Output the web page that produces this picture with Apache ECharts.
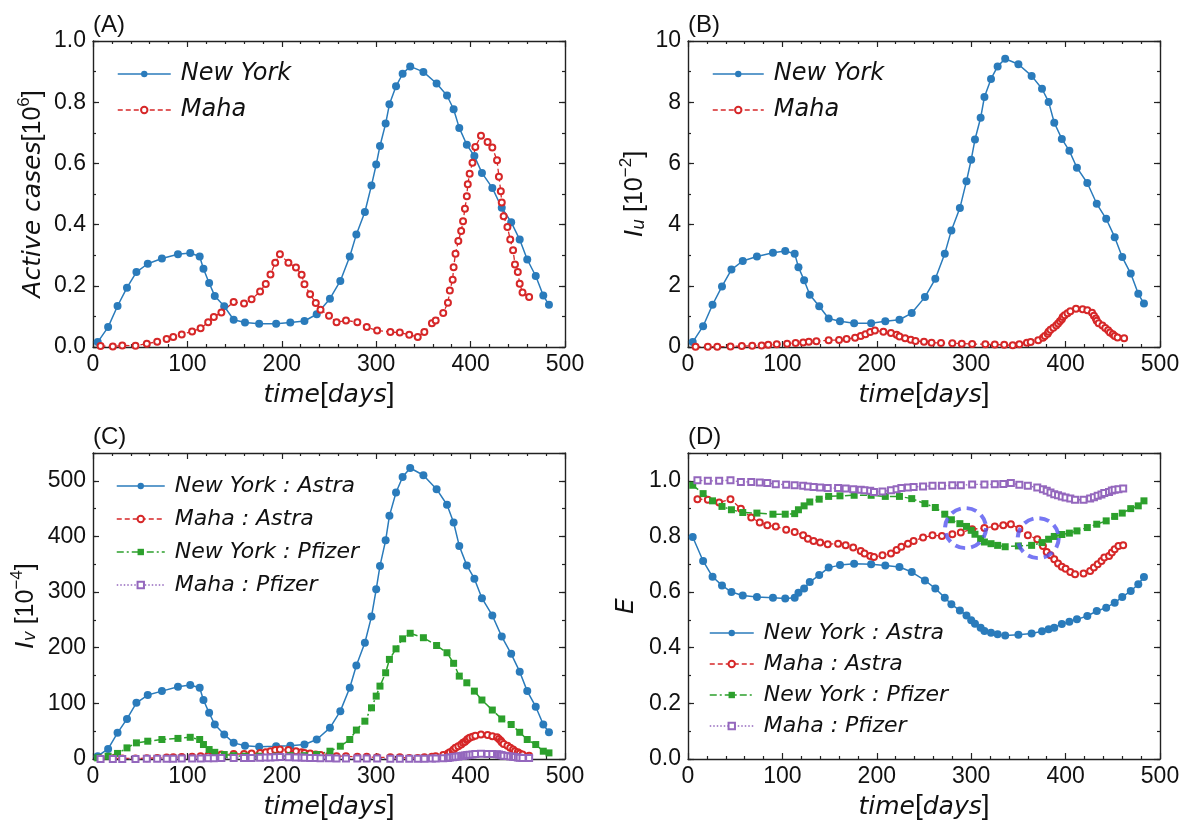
<!DOCTYPE html>
<html>

<head>
    <meta charset="utf-8" />
    <script src="https://cdn.jsdelivr.net/npm/echarts@6/dist/echarts.min.js"></script>
    <style>
        body { margin: 0; background: #fff; }
        #main { width: 1184px; height: 821px; }
    </style>
</head>

<body>
    <div id="main"></div>
    <script>
        // days sampled for New York (same in every panel)
        var nyDays = [5, 16, 26, 36, 46, 58, 73, 90, 103, 113, 117, 123, 129, 139, 149, 161, 176, 194, 209, 224,
            237, 251, 262, 272, 279, 288, 295, 300, 304, 310, 314, 321, 328, 336, 350, 364, 375, 382, 388, 396,
            404, 412, 423, 433, 443, 452, 460, 469, 477, 483];
        // days sampled for Maha (panels A, B, C)
        var mahaDays = [8, 21, 31, 45, 57, 68, 78, 85, 94, 105, 114, 122, 128, 136, 149, 160, 168, 177, 183, 188,
            193, 198, 207, 215, 221, 224, 230, 236, 241, 250, 258, 268, 280, 290, 301, 315, 325, 335, 344, 351,
            359, 363, 371, 376, 378, 381, 382, 384, 387, 390, 392, 394, 396, 397, 399, 402, 405, 411, 418, 423,
            428, 430, 432, 433, 435, 439, 442, 445, 447, 450, 452, 455, 462];
        // days sampled for Maha in panel D
        var mahaDaysE = [10, 21, 33, 45, 56, 67, 76, 84, 93, 104, 113, 122, 127, 133, 140, 148, 159, 167, 175, 183,
            187, 193, 197, 206, 215, 221, 226, 233, 239, 249, 259, 269, 280, 289, 301, 314, 325, 334, 342, 351,
            360, 370, 376, 380, 384, 388, 392, 396, 400, 405, 410, 419, 426, 430, 434, 438, 441, 446, 449, 452,
            456, 461];

        // (A) active cases [10^6]
        var nyActive = [0.016, 0.065, 0.134, 0.194, 0.245, 0.272, 0.289, 0.303, 0.307, 0.296, 0.256, 0.209, 0.167, 0.133,
            0.089, 0.080, 0.076, 0.076, 0.080, 0.085, 0.107, 0.158, 0.216, 0.296, 0.368, 0.441, 0.528, 0.596, 0.657,
            0.730, 0.793, 0.852, 0.893, 0.917, 0.899, 0.861, 0.822, 0.777, 0.716, 0.661, 0.624, 0.569, 0.520, 0.455,
            0.408, 0.351, 0.286, 0.232, 0.168, 0.138];
        var mahaActive = [0.003, 0.002, 0.005, 0.004, 0.011, 0.017, 0.026, 0.033, 0.041, 0.051,
            0.061, 0.081, 0.098, 0.113, 0.147, 0.142, 0.156, 0.181, 0.206, 0.237,
            0.275, 0.303, 0.275, 0.260, 0.236, 0.205, 0.172, 0.144, 0.122, 0.102,
            0.081, 0.087, 0.081, 0.065, 0.054, 0.049, 0.047, 0.040, 0.033, 0.049,
            0.078, 0.087, 0.111, 0.145, 0.185, 0.220, 0.261, 0.305, 0.346, 0.379,
            0.411, 0.452, 0.493, 0.532, 0.566, 0.602, 0.654, 0.690, 0.670, 0.652,
            0.610, 0.556, 0.509, 0.472, 0.427, 0.392, 0.351, 0.316, 0.270, 0.245,
            0.207, 0.178, 0.163];

        // (B) I_u [10^-2]
        var nyIu = [0.16, 0.68, 1.38, 1.98, 2.53, 2.81, 2.96, 3.08, 3.14, 3.05, 2.61, 2.18, 1.71, 1.33, 0.93, 0.84,
            0.78, 0.78, 0.84, 0.89, 1.11, 1.63, 2.23, 3.05, 3.81, 4.54, 5.42, 6.12, 6.78, 7.49, 8.17, 8.76, 9.17,
            9.42, 9.24, 8.86, 8.44, 8.01, 7.33, 6.80, 6.41, 5.86, 5.36, 4.68, 4.19, 3.59, 2.94, 2.40, 1.74, 1.42];
        var mahaIu = [0.01, 0.01, 0.01, 0.02, 0.03, 0.04, 0.05, 0.07, 0.09, 0.11,
            0.13, 0.15, 0.17, 0.19, 0.22, 0.23, 0.26, 0.30, 0.36, 0.42,
            0.49, 0.54, 0.50, 0.46, 0.40, 0.34, 0.29, 0.24, 0.20, 0.17,
            0.14, 0.13, 0.12, 0.11, 0.10, 0.09, 0.08, 0.07, 0.06, 0.09,
            0.14, 0.16, 0.22, 0.30, 0.36, 0.43, 0.50, 0.56, 0.63, 0.70,
            0.77, 0.84, 0.91, 0.98, 1.04, 1.10, 1.17, 1.25, 1.23, 1.20,
            1.12, 1.02, 0.93, 0.86, 0.78, 0.70, 0.62, 0.55, 0.47, 0.42,
            0.36, 0.31, 0.29];

        // (C) I_v [10^-4]
        var nyIvAstra = [5, 18, 47, 72, 101, 115, 122, 130, 133, 128, 106, 83, 62, 44, 29, 24, 22, 23, 24, 26,
            35, 56, 86, 128, 168, 209, 256, 305, 347, 393, 437, 479, 507, 523, 510, 485, 457, 425, 383, 348,
            324, 289, 258, 220, 189, 157, 122, 94, 62, 48];
        var mahaIvAstra = [1, 1, 1, 1, 1.5, 2, 2.5, 3, 3.5, 4, 5, 6, 7, 8, 9, 9, 10, 11, 12, 14,
            16, 17, 16, 14, 12, 11, 10, 8, 7, 6, 5, 5, 4, 4, 3, 3, 3, 2, 2, 3,
            4, 5, 7, 10, 12, 15, 17, 20, 23, 26, 29, 31, 34, 36, 38, 40, 42, 44, 43, 41,
            39, 36, 33, 30, 27, 24, 20, 17, 14, 12, 10, 8, 6];
        var nyIvPfizer = [2, 5, 10, 20, 29, 32, 35, 37, 39, 35, 26, 17, 12, 8, 6, 5, 5, 5, 6, 6,
            8, 14, 23, 35, 52, 68, 92, 113, 131, 155, 179, 198, 216, 226, 218, 204, 191, 172, 149, 137,
            122, 106, 88, 72, 62, 48, 35, 26, 14, 11];
        var mahaIvPfizer = [0.2, 0.2, 0.2, 0.2, 0.3, 0.4, 0.5, 0.6, 0.7, 0.8, 1, 1.2, 1.4, 1.6, 1.8, 1.9, 2, 2.2, 2.5, 2.8,
            3.2, 3.4, 3.2, 2.9, 2.6, 2.3, 2, 1.7, 1.5, 1.3, 1.1, 1, 0.9, 0.8, 0.7, 0.6, 0.6, 0.5, 0.5, 0.6,
            0.8, 1, 1.5, 2, 2.5, 3, 3.5, 4, 4.6, 5.2, 5.8, 6.3, 6.8, 7.3, 7.8, 8.2, 8.8, 9.3, 9.2, 9,
            8.6, 8, 7.3, 6.7, 6, 5.4, 4.7, 4, 3.4, 2.9, 2.4, 2, 1.6];

        // (D) E
        var nyEffAstra = [0.798, 0.712, 0.655, 0.624, 0.600, 0.588, 0.582, 0.580, 0.577, 0.580,
            0.598, 0.613, 0.636, 0.661, 0.688, 0.697, 0.702, 0.700, 0.696, 0.690,
            0.672, 0.642, 0.613, 0.580, 0.556, 0.534, 0.516, 0.499, 0.486, 0.472,
            0.460, 0.454, 0.448, 0.444, 0.447, 0.451, 0.459, 0.466, 0.472, 0.485,
            0.493, 0.502, 0.514, 0.532, 0.544, 0.562, 0.582, 0.604, 0.628, 0.654];
        var nyEffPfizer = [0.984, 0.954, 0.928, 0.908, 0.896, 0.886, 0.884, 0.880, 0.880, 0.882,
            0.896, 0.910, 0.924, 0.934, 0.944, 0.946, 0.948, 0.948, 0.944, 0.944,
            0.936, 0.918, 0.904, 0.880, 0.860, 0.846, 0.836, 0.822, 0.808, 0.792,
            0.780, 0.774, 0.768, 0.763, 0.766, 0.768, 0.778, 0.790, 0.800, 0.807,
            0.812, 0.820, 0.832, 0.844, 0.856, 0.872, 0.884, 0.900, 0.910, 0.928];
        var mahaEffAstra = [0.934, 0.932, 0.922, 0.934, 0.900, 0.868, 0.850, 0.840, 0.836, 0.824,
            0.816, 0.804, 0.792, 0.784, 0.778, 0.772, 0.774, 0.768, 0.760, 0.748,
            0.739, 0.730, 0.726, 0.732, 0.739, 0.751, 0.763, 0.774, 0.784, 0.796,
            0.804, 0.802, 0.808, 0.814, 0.826, 0.830, 0.836, 0.840, 0.844, 0.828,
            0.804, 0.790, 0.766, 0.744, 0.732, 0.718, 0.703, 0.691, 0.684, 0.672,
            0.664, 0.667, 0.676, 0.688, 0.700, 0.712, 0.724, 0.730, 0.742, 0.754,
            0.766, 0.768];
        var mahaEffPfizer = [1.002, 1.000, 1.000, 1.002, 0.996, 0.996, 0.994, 0.992, 0.988, 0.986,
            0.984, 0.982, 0.980, 0.978, 0.976, 0.974, 0.974, 0.972, 0.970, 0.968,
            0.966, 0.964, 0.960, 0.962, 0.966, 0.970, 0.974, 0.976, 0.978, 0.980,
            0.982, 0.982, 0.984, 0.984, 0.987, 0.987, 0.988, 0.989, 0.992, 0.986,
            0.982, 0.976, 0.970, 0.964, 0.958, 0.952, 0.948, 0.944, 0.940, 0.936,
            0.932, 0.932, 0.936, 0.941, 0.946, 0.951, 0.956, 0.960, 0.965, 0.968,
            0.970, 0.972];

        // dashed circles marking the crossings in (D)
        var circleDays = [294, 371];
        var circleE = [0.830, 0.794];

        var BLUE = '#2a7bbb', RED = '#d62728', GREEN = '#2ca02c', PURPLE = '#9467bd';
        var INK = '#222';
        var FONT = 'Liberation Sans';
        var ITAL = 'DejaVu Sans';

        var boxes = [
            { left: 93, top: 41 }, { left: 688, top: 41 },
            { left: 93, top: 453 }, { left: 688, top: 453 }
        ];

        function zip(xs, ys) {
            return xs.map(function (x, i) { return [x, ys[i]]; });
        }

        var rich = {
            i: { fontFamily: ITAL, fontStyle: 'italic', fontSize: 25, lineHeight: 30, color: '#111', verticalAlign: 'bottom' },
            n: { fontFamily: FONT, fontSize: 25, lineHeight: 30, color: '#111', verticalAlign: 'bottom' },
            b: { fontFamily: FONT, fontSize: 28, lineHeight: 30, color: '#111', verticalAlign: 'bottom' },
            sup: { fontFamily: FONT, fontSize: 17, lineHeight: 12, color: '#111', verticalAlign: 'top' },
            sub: { fontFamily: ITAL, fontStyle: 'italic', fontSize: 17, lineHeight: 14, color: '#111', verticalAlign: 'bottom' }
        };

        var tickLine = { color: INK, width: 1.2 };

        function xAxes(g) {
            var base = {
                gridIndex: g, type: 'value', min: 0, max: 500, interval: 100,
                splitLine: { show: false },
                axisLine: { onZero: false, lineStyle: { color: INK, width: 1.4 } },
                axisTick: { inside: true, length: 6, lineStyle: tickLine },
                minorTick: { show: true, splitNumber: 5, length: 3, lineStyle: tickLine }
            };
            return [
                Object.assign({}, base, {
                    position: 'bottom',
                    axisLabel: { fontFamily: FONT, fontSize: 23, color: '#111', margin: 6 },
                    name: '{i|time}{b|[}{i|days}{b|]}',
                    nameLocation: 'middle', nameGap: 31, nameMoveOverlap: false,
                    nameTextStyle: { rich: rich }
                }),
                Object.assign({}, base, { position: 'top', axisLabel: { show: false } })
            ];
        }

        function yAxes(g, max, major, minor, digits, showMax, name, gap) {
            var base = {
                gridIndex: g, type: 'value', min: 0, max: max, interval: major,
                splitLine: { show: false },
                axisLine: { onZero: false, lineStyle: { color: INK, width: 1.4 } },
                axisTick: { inside: true, length: 6, lineStyle: tickLine }
            };
            var minorBase = {
                gridIndex: g, type: 'value', min: 0, max: max, interval: minor,
                splitLine: { show: false },
                axisLine: { show: false, onZero: false },
                axisLabel: { show: false },
                axisTick: { inside: true, length: 3, lineStyle: tickLine }
            };
            return [
                Object.assign({}, base, {
                    position: 'left',
                    axisLabel: {
                        fontFamily: FONT, fontSize: 23, color: '#111', margin: 7, showMaxLabel: showMax,
                        formatter: function (v) { return v.toFixed(digits); }
                    },
                    name: name, nameLocation: 'middle', nameGap: gap, nameMoveOverlap: false,
                    nameTextStyle: { rich: rich }
                }),
                Object.assign({}, base, { position: 'right', axisLabel: { show: false } }),
                Object.assign({}, minorBase, { position: 'left' }),
                Object.assign({}, minorBase, { position: 'right' })
            ];
        }

        function line(g, name, xs, ys, kind) {
            var s = {
                type: 'line', name: name, xAxisIndex: 2 * g, yAxisIndex: 4 * g,
                data: zip(xs, ys), showSymbol: true, showAllSymbol: true, silent: true
            };
            if (kind === 'nyA') {
                s.symbol = 'circle'; s.symbolSize = 8;
                s.lineStyle = { color: BLUE, width: 1.5 };
                s.itemStyle = { color: BLUE };
            } else if (kind === 'mA') {
                s.symbol = 'emptyCircle'; s.symbolSize = 6;
                s.lineStyle = { color: RED, width: 1.3, type: [5, 3] };
                s.itemStyle = { color: RED, borderWidth: 1.3 };
            } else if (kind === 'nyP') {
                s.symbol = 'rect'; s.symbolSize = 7;
                s.lineStyle = { color: GREEN, width: 1.5, type: [7, 3, 2, 3] };
                s.itemStyle = { color: GREEN };
            } else {
                s.symbol = 'emptyRect'; s.symbolSize = 6;
                s.lineStyle = { color: PURPLE, width: 1.3, type: [1.5, 2] };
                s.itemStyle = { color: PURPLE, borderWidth: 1.3 };
            }
            return s;
        }

        function legend(names, left, top, iw, gap, fs) {
            return {
                data: names, orient: 'vertical', left: left, top: top, padding: 0,
                itemWidth: iw, itemHeight: 8, itemGap: gap, selectedMode: false,
                lineStyle: { width: 1.5 },
                textStyle: {
                    fontFamily: ITAL, fontStyle: 'italic', fontSize: fs, lineHeight: fs,
                    color: '#111', padding: [0, 0, 0, 5]
                }
            };
        }

        var vac = ['New York : Astra', 'Maha : Astra', 'New York : Pfizer', 'Maha : Pfizer'];

        var option = {
            animation: false,
            backgroundColor: '#fff',
            title: ['(A)', '(B)', '(C)', '(D)'].map(function (t, g) {
                return {
                    text: t, left: boxes[g].left, top: boxes[g].top - 28, padding: 0,
                    textStyle: { fontFamily: FONT, fontSize: 24, fontWeight: 'normal', color: '#111' }
                };
            }),
            grid: boxes.map(function (b) {
                return { left: b.left, top: b.top, width: 472, height: 306, outerBoundsMode: 'none', containLabel: false };
            }),
            legend: [
                legend(['New York', 'Maha'], 117, 62, 53, 12, 24),
                legend(['New York', 'Maha'], 712, 62, 51, 12, 24),
                legend(vac, 116, 475, 48, 11, 22),
                legend(vac, 709, 622, 44, 9, 22)
            ],
            xAxis: [].concat(xAxes(0), xAxes(1), xAxes(2), xAxes(3)),
            yAxis: [].concat(
                yAxes(0, 1, 0.2, 0.1, 1, true, '{i|Active cases}{n|[10}{sup|6}{n|]}', 47),
                yAxes(1, 10, 2, 1, 0, true, '{i|I}{sub|u}{n| [10}{sup|−2}{n|]}', 40),
                yAxes(2, 550, 100, 50, 0, false, '{i|I}{sub|v}{n| [10}{sup|−4}{n|]}', 54),
                yAxes(3, 1.1, 0.2, 0.1, 1, false, '{i|E}', 49)
            ),
            series: [
                line(0, 'New York', nyDays, nyActive, 'nyA'),
                line(0, 'Maha', mahaDays, mahaActive, 'mA'),
                line(1, 'New York', nyDays, nyIu, 'nyA'),
                line(1, 'Maha', mahaDays, mahaIu, 'mA'),
                line(2, vac[0], nyDays, nyIvAstra, 'nyA'),
                line(2, vac[1], mahaDays, mahaIvAstra, 'mA'),
                line(2, vac[2], nyDays, nyIvPfizer, 'nyP'),
                line(2, vac[3], mahaDays, mahaIvPfizer, 'mP'),
                line(3, vac[0], nyDays, nyEffAstra, 'nyA'),
                line(3, vac[1], mahaDaysE, mahaEffAstra, 'mA'),
                line(3, vac[2], nyDays, nyEffPfizer, 'nyP'),
                line(3, vac[3], mahaDaysE, mahaEffPfizer, 'mP'),
                {
                    type: 'scatter', xAxisIndex: 6, yAxisIndex: 12, silent: true, z: 5,
                    data: zip(circleDays, circleE),
                    symbol: 'circle', symbolSize: [41, 40],
                    itemStyle: {
                        opacity: 1,
                        color: 'rgba(0,0,0,0)', borderColor: 'rgba(85,85,240,0.8)',
                        borderWidth: 4, borderType: [10, 6]
                    }
                }
            ]
        };

        var myChart = echarts.init(document.getElementById('main'));
        myChart.setOption(option);
    </script>
</body>

</html>
